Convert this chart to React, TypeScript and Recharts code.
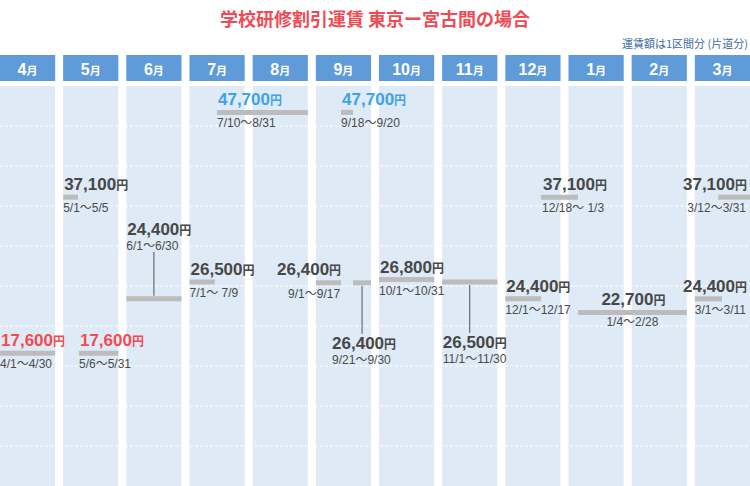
import React from 'react';
import { ComposedChart, XAxis, YAxis, ReferenceArea, ReferenceLine } from 'recharts';

const TITLE = '学校研修割引運賃 東京ー宮古間の場合';
const NOTE = '運賃額は1区間分 (片道分)';
const MONTHS = ['4', '5', '6', '7', '8', '9', '10', '11', '12', '1', '2', '3'];
const MONTH_SUFFIX = '月';
const YEN = '円';

// each month is one slot on the x axis; the coloured column covers part of it
const COLUMN_SPAN = 0.873;
const X_DOMAIN: [number, number] = [0, 11.873];
const Y_DOMAIN: [number, number] = [1000, 51000];
const GRID_VALUES = [6000, 11000, 16000, 21000, 26000, 31000, 36000, 41000, 46000];

// fare periods (x in month slots)
const SEG_START = [0, 1.0, 1.25, 2, 3.0, 3.435, 5.0, 5.4, 5.59, 6, 7, 8.0, 8.565, 9.15, 11.0, 11.37];
const SEG_END = [0.873, 1.235, 1.873, 2.873, 3.4, 4.873, 5.4, 5.59, 5.873, 6.873, 7.873, 8.565, 9.15, 10.873, 11.43, 11.873];
const SEG_PRICE = [17600, 37100, 17600, 24400, 26500, 47700, 26400, 47700, 26400, 26800, 26500, 24400, 37100, 22700, 24400, 37100];
const SEG_DATES = [
  '4/1～4/30', '5/1～5/5', '5/6～5/31', '6/1～6/30', '7/1～ 7/9', '7/10～8/31',
  '9/1～9/17', '9/18～9/20', '9/21～9/30', '10/1～10/31', '11/1～11/30',
  '12/1～12/17', '12/18～ 1/3', '1/4～2/28', '3/1～3/11', '3/12～3/31',
];
const LOW_PRICE = 17600;
const HIGH_PRICE = 47700;

const NUM_FONT = "'Liberation Sans', Arial, 'Noto Sans CJK JP', sans-serif";
const JP_FONT = "'Noto Sans CJK JP', 'Liberation Sans', sans-serif";

type Anchor = 'start' | 'middle' | 'end';
type Ref = 'start' | 'mid' | 'end';
interface Layout {
  pAnchor: Anchor; pRef: Ref; pdx: number; pdy: number;
  dAnchor: Anchor; dRef: Ref; ddx: number; ddy: number;
  line?: [number, number];
}
const DEFAULT_LAYOUT: Layout = {
  pAnchor: 'start', pRef: 'start', pdx: 1, pdy: -7,
  dAnchor: 'start', dRef: 'start', ddx: 0, ddy: 15,
};
const LAYOUT_OVERRIDES: Record<number, Partial<Layout>> = {
  3: { pdy: -64, ddy: -49, line: [-47, -3] },
  6: { pAnchor: 'end', pRef: 'end', pdx: 0, pdy: -8, dAnchor: 'end', dRef: 'end', ddx: -1, ddy: 15 },
  8: { pRef: 'mid', pdx: -30, pdy: 66, dRef: 'mid', ddx: -30, ddy: 81, line: [3, 51] },
  10: { pRef: 'mid', pdx: -27, pdy: 66, dRef: 'mid', ddx: -27, ddy: 81, line: [3, 51] },
  12: { pdx: 2, ddx: 1 },
  13: { pAnchor: 'middle', pRef: 'mid', pdx: 1, dAnchor: 'middle', dRef: 'mid', ddx: 0, ddy: 14 },
  14: { pAnchor: 'end', pRef: 'end', pdx: 25 },
  15: { pAnchor: 'end', pRef: 'end', pdx: -3, dAnchor: 'end', dRef: 'end', ddx: -4 },
};

const priceColor = (p: number) => (p === LOW_PRICE ? '#f24b52' : p === HIGH_PRICE ? '#3ea2e8' : '#474747');

const refX = (r: Ref, x: number, w: number) => (r === 'start' ? x : r === 'mid' ? x + w / 2 : x + w);

const makeLabel = (i: number) => (props: any) => {
  const vb = props.viewBox || {};
  const x = Number(vb.x) || 0;
  const w = Number(vb.width) || 0;
  const y = Number(vb.y) || 0;
  const L: Layout = { ...DEFAULT_LAYOUT, ...(LAYOUT_OVERRIDES[i] || {}) };
  const price = SEG_PRICE[i];
  const cx = x + w / 2;
  return (
    <g>
      {L.line && (
        <line x1={cx} x2={cx} y1={y + L.line[0]} y2={y + L.line[1]} stroke="#555" strokeWidth={1} />
      )}
      <text
        x={refX(L.pRef, x, w) + L.pdx}
        y={y + L.pdy}
        textAnchor={L.pAnchor}
        fill={priceColor(price)}
        fontFamily={NUM_FONT}
        fontWeight={700}
      >
        <tspan fontSize={17}>{price.toLocaleString('en-US')}</tspan>
        <tspan fontSize={12}>{YEN}</tspan>
      </text>
      <text
        x={refX(L.dRef, x, w) + L.ddx}
        y={y + L.ddy}
        textAnchor={L.dAnchor}
        fill="#4a4a4a"
        fontFamily={NUM_FONT}
        fontSize={12}
      >
        {SEG_DATES[i]}
      </text>
    </g>
  );
};

const MONTH_TICKS = MONTHS.map((_, i) => i + COLUMN_SPAN / 2);

const MonthTick = (props: any) => {
  const { x, y, payload, index } = props;
  const i = typeof index === 'number' ? index : payload?.index ?? 0;
  return (
    <g>
      <rect x={x - 27.6} y={y - 31} width={55.2} height={26} fill="#5e9bd8" />
      <text x={x} y={y - 11} textAnchor="middle" fill="#ffffff" fontFamily={NUM_FONT} fontWeight={700}>
        <tspan fontSize={16}>{MONTHS[i]}</tspan>
        <tspan fontSize={11}>{MONTH_SUFFIX}</tspan>
      </text>
    </g>
  );
};

export default function App() {
  return (
    <div style={{ position: 'absolute', left: 0, top: 0, width: 750, height: 486, background: '#fff' }}>
      <div
        style={{
          position: 'absolute', left: 0, top: 9, width: 750, textAlign: 'center',
          fontFamily: JP_FONT, fontSize: 18, lineHeight: '18px', fontWeight: 700, color: '#f04b55',
        }}
      >
        {TITLE}
      </div>
      <div
        style={{
          position: 'absolute', right: 2, top: 38, fontFamily: JP_FONT, fontSize: 11,
          lineHeight: '11px', color: '#3d6ba3', whiteSpace: 'nowrap',
        }}
      >
        {NOTE}
      </div>
      <ComposedChart width={750} height={486} margin={{ top: 55, right: 0, bottom: 0, left: 0 }}>
        <XAxis
          type="number"
          orientation="top"
          dataKey="x"
          domain={X_DOMAIN}
          allowDataOverflow
          ticks={MONTH_TICKS}
          interval={0}
          height={31}
          axisLine={false}
          tickLine={false}
          tickSize={0}
          tickMargin={0}
          tick={<MonthTick />}
        />
        <YAxis type="number" domain={Y_DOMAIN} allowDataOverflow hide />
        {MONTHS.map((m, i) => (
          <ReferenceArea
            key={'col' + m + i}
            x1={i}
            x2={i + COLUMN_SPAN}
            y1={Y_DOMAIN[0]}
            y2={Y_DOMAIN[1]}
            fill="#deeaf6"
            fillOpacity={1}
            stroke="none"
            ifOverflow="visible"
          />
        ))}
        {GRID_VALUES.map((v) => (
          <ReferenceLine key={'g' + v} y={v} stroke="#ffffff" strokeDasharray="3 2" strokeWidth={1} />
        ))}
        {SEG_PRICE.map((p, i) => (
          <ReferenceLine
            key={'s' + i}
            segment={[{ x: SEG_START[i], y: p }, { x: SEG_END[i], y: p }]}
            stroke="#bcbcbc"
            strokeWidth={5}
            ifOverflow="visible"
            label={makeLabel(i)}
          />
        ))}
      </ComposedChart>
    </div>
  );
}
